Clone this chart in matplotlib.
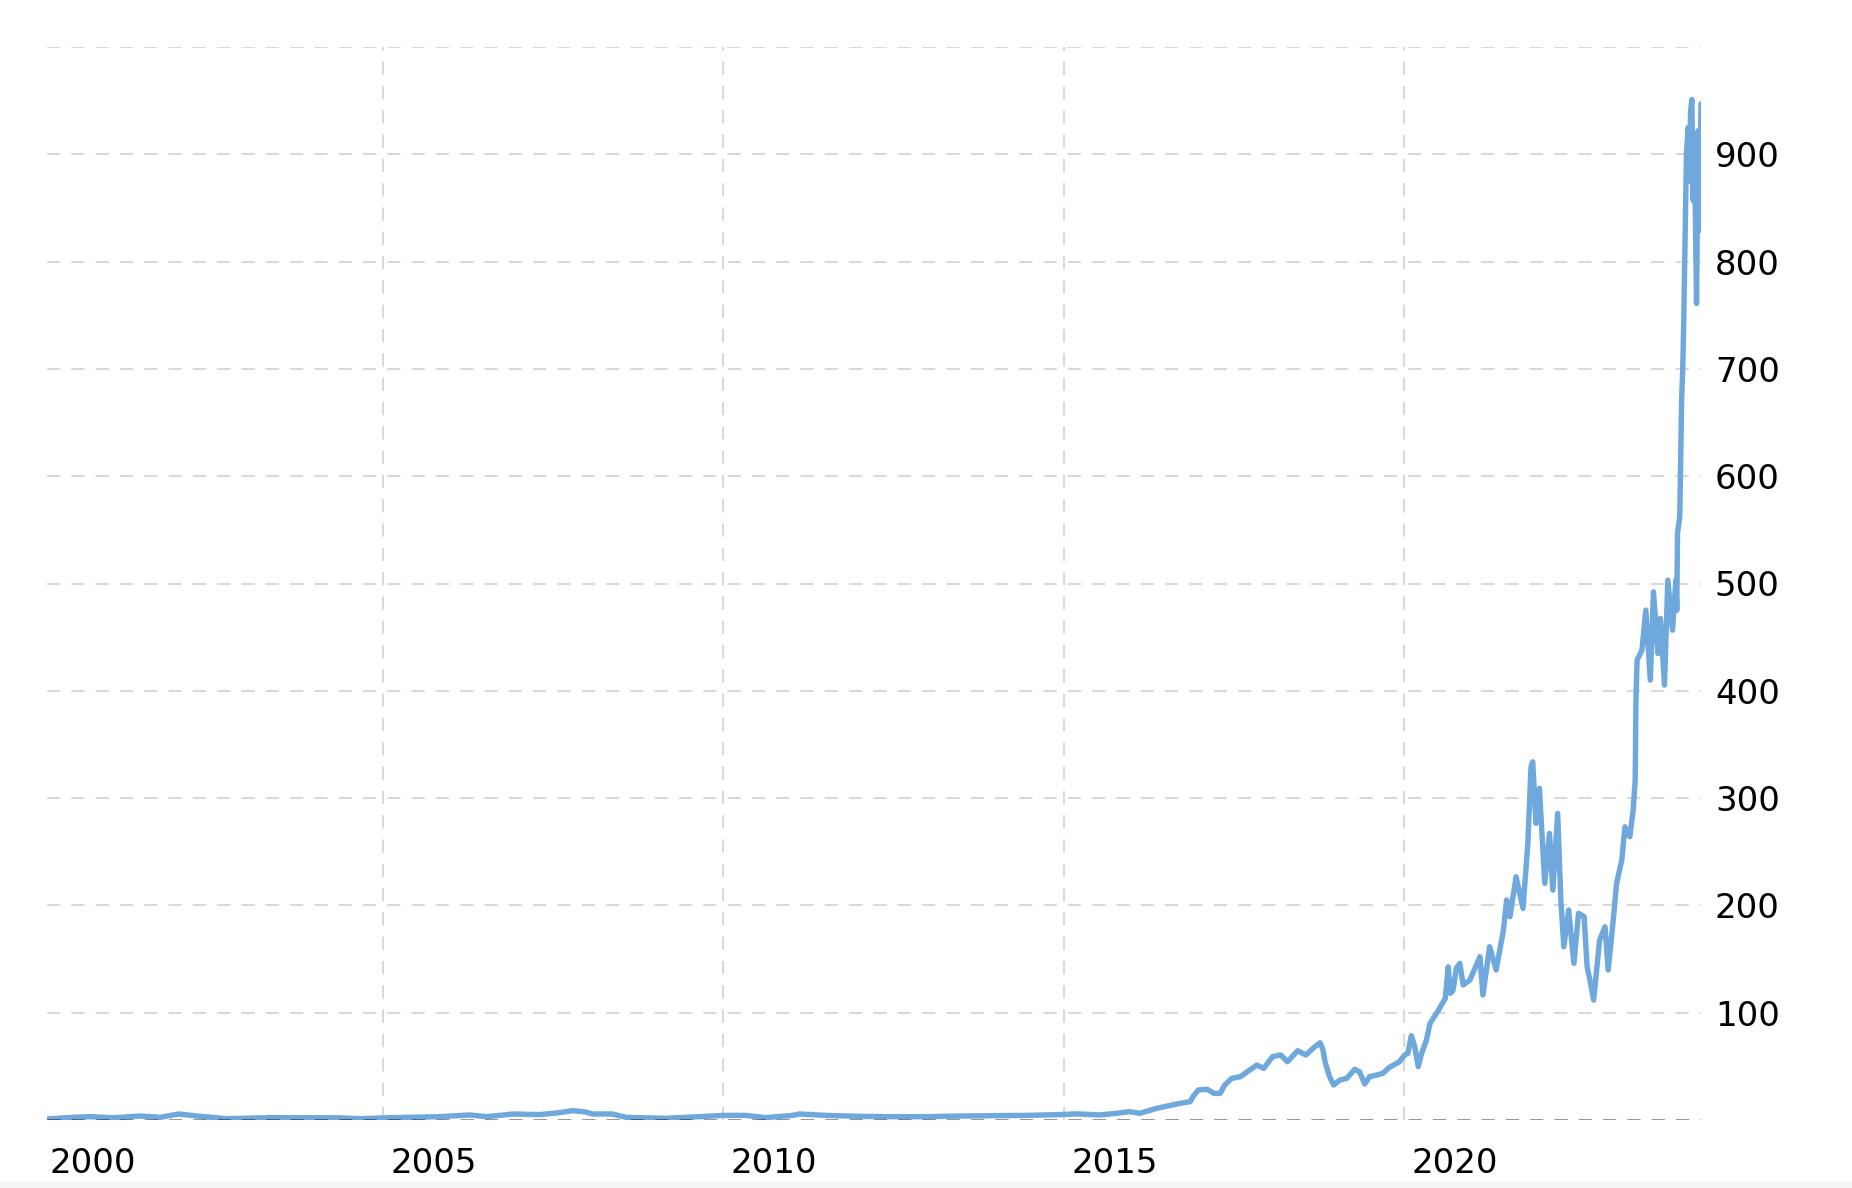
import matplotlib
matplotlib.use("Agg")
import matplotlib.pyplot as plt
from matplotlib.patches import Rectangle
import pandas as pd

# closing price (approximate)
dates = [
    "2000-01-26", "2000-06-17", "2000-09-13", "2001-01-15", "2001-06-10", "2001-09-24",
    "2002-01-02", "2002-04-10", "2002-09-16", "2003-05-22", "2004-05-15", "2004-09-02",
    "2005-01-01", "2005-11-03", "2006-04-12", "2006-07-12", "2006-12-02", "2007-04-23",
    "2007-08-05", "2007-10-16", "2007-12-25", "2008-01-30", "2008-05-16", "2008-07-27",
    "2008-11-10", "2009-02-28", "2009-08-25", "2010-01-01", "2010-04-30", "2010-08-18",
    "2011-01-08", "2011-02-14", "2011-07-05", "2012-01-01", "2012-06-28", "2012-12-24",
    "2013-06-21", "2013-12-16", "2014-06-14", "2014-12-09", "2015-03-15", "2015-07-13",
    "2015-10-12", "2015-12-20", "2016-02-14", "2016-05-15", "2016-08-29", "2016-11-10",
    "2016-11-28", "2016-12-24", "2017-02-10", "2017-03-18", "2017-04-20", "2017-05-15",
    "2017-06-21", "2017-08-07", "2017-09-13", "2017-11-03", "2017-12-10", "2018-01-26",
    "2018-03-11", "2018-04-16", "2018-06-10", "2018-07-24", "2018-09-06", "2018-10-08",
    "2018-10-23", "2018-11-06", "2018-11-28", "2018-12-20", "2019-01-23", "2019-02-28",
    "2019-04-12", "2019-05-08", "2019-06-05", "2019-07-01", "2019-08-08", "2019-09-10",
    "2019-10-15", "2019-12-08", "2020-01-05", "2020-01-22", "2020-02-10", "2020-02-28",
    "2020-03-18", "2020-04-05", "2020-05-01", "2020-05-20", "2020-07-05", "2020-08-10",
    "2020-08-26", "2020-09-06", "2020-09-21", "2020-10-08", "2020-10-27", "2020-11-14",
    "2020-12-20", "2021-02-12", "2021-02-28", "2021-04-05", "2021-05-10", "2021-06-18",
    "2021-07-05", "2021-07-23", "2021-08-25", "2021-10-01", "2021-10-27", "2021-11-13",
    "2021-11-22", "2021-12-10", "2021-12-28", "2022-01-26", "2022-02-20", "2022-03-10",
    "2022-04-05", "2022-04-22", "2022-05-08", "2022-06-03", "2022-07-01", "2022-07-26",
    "2022-08-25", "2022-09-10", "2022-09-25", "2022-10-15", "2022-11-16", "2022-12-15",
    "2023-01-01", "2023-01-30", "2023-02-15", "2023-03-15", "2023-04-01", "2023-04-27",
    "2023-05-15", "2023-05-26", "2023-05-30", "2023-06-05", "2023-07-01", "2023-07-22",
    "2023-08-15", "2023-09-01", "2023-09-25", "2023-10-08", "2023-10-30", "2023-11-17",
    "2023-12-12", "2023-12-30", "2024-01-04", "2024-01-08", "2024-01-20", "2024-01-25",
    "2024-01-30", "2024-02-05", "2024-02-10", "2024-02-25", "2024-03-05", "2024-03-12",
    "2024-03-18", "2024-03-25", "2024-04-01", "2024-04-08", "2024-04-19", "2024-04-28",
    "2024-05-04", "2024-05-13",
]
prices = [
    1.0, 2.5, 3.1, 2.1, 3.7, 2.5,
    5.6, 3.7, 1.2, 2.2, 2.0, 1.2,
    2.0, 3.1, 4.7, 3.1, 5.6, 5.0,
    6.8, 8.7, 7.5, 5.6, 5.6, 2.5,
    2.0, 1.6, 3.1, 4.3, 4.3, 2.2,
    4.3, 5.6, 4.3, 3.4, 3.1, 3.1,
    3.7, 4.0, 4.3, 5.0, 5.7, 4.7,
    6.2, 7.8, 6.2, 10.9, 14.9, 17.1,
    22.4, 28.0, 28.6, 24.8, 24.8, 32.6,
    38.8, 40.4, 45.0, 51.2, 48.1, 59.0,
    60.6, 54.3, 64.6, 60.6, 67.7, 72.0,
    65.8, 52.8, 40.4, 32.6, 37.3, 38.8,
    47.2, 45.0, 33.5, 40.4, 41.9, 43.5,
    49.0, 54.3, 60.6, 62.1, 78.5, 68.3,
    49.7, 62.1, 74.5, 90.0, 102.5, 113.4,
    142.8, 118.0, 121.0, 141.3, 146.0, 125.8,
    130.4, 152.2, 116.5, 161.5, 139.8, 177.0,
    205.0, 189.4, 226.7, 197.2, 257.8, 329.0,
    333.8, 276.4, 309.0, 220.5, 267.0, 214.3,
    285.7, 205.0, 161.5, 195.7, 146.0, 192.6,
    189.5, 142.8, 130.4, 111.8, 167.7, 180.1,
    139.8, 189.5, 220.5, 242.2, 273.3, 264.0,
    288.8, 316.8, 391.0, 428.6, 437.9, 475.2,
    410.0, 492.2, 434.8, 467.4, 405.3, 503.1,
    456.5, 503.0, 475.0, 547.0, 562.0, 615.0,
    671.0, 700.0, 740.0, 900.0, 925.0, 875.0,
    940.0, 951.0, 857.0, 907.0, 761.0, 922.0,
    829.0, 947.0,
]

y_ticks = [100, 200, 300, 400, 500, 600, 700, 800, 900]
y_grid = [100, 200, 300, 400, 500, 600, 700, 800, 900, 1000]
grid_years = [2005, 2010, 2015, 2020]
label_years = [2000, 2005, 2010, 2015, 2020]

plt.rcParams["lines.scale_dashes"] = False
W, H = 1852, 1188
fig = plt.figure(figsize=(W / 100, H / 100), dpi=100)
fig.patch.set_facecolor("white")
# light strip at the very bottom of the screenshot
fig.patches.append(Rectangle((0, 0), 1, 6 / H, transform=fig.transFigure,
                             facecolor="#f4f5f7", edgecolor="none"))

left, right, top, bottom = 47, 1701, 47, 1120
ax = fig.add_axes([left / W, (H - bottom) / H, (right - left) / W, (bottom - top) / H])

x = pd.to_datetime(dates)
dash = (0, (9.5, 8.0))

# grid
for v in y_grid:
    ax.axhline(v, color="#d9d9d9", lw=1.5, ls=dash, zorder=1)
for yr in grid_years:
    ax.axvline(pd.Timestamp(f"{yr}-01-01"), color="#d9d9d9", lw=1.5, ls=dash, zorder=1)

ax.plot(x, prices, color="#6fa8dc", lw=3.9, solid_joinstyle="round",
        solid_capstyle="round", zorder=3)

# zero line sits on top of the series
ax.axhline(0, color="black", alpha=0.4, lw=2.2, ls=dash, zorder=4)

ax.set_xlim(x[0], x[-1])
ax.set_ylim(0, 1000)
for s in ax.spines.values():
    s.set_visible(False)

ax.yaxis.tick_right()
ax.set_yticks(y_ticks)
ax.set_yticklabels([str(v) for v in y_ticks])
ax.tick_params(axis="y", length=0, pad=10, labelsize=24.5, labelcolor="black")
ax.set_xticks([])

for yr in label_years:
    ax.annotate(str(yr), xy=(pd.Timestamp(f"{yr}-01-01"), 0),
                xycoords=("data", "axes fraction"),
                xytext=(5.4, -38), textcoords="offset points",
                ha="left", va="baseline", fontsize=24.5, color="black",
                annotation_clip=False)

fig.savefig("out.png", dpi=100)
